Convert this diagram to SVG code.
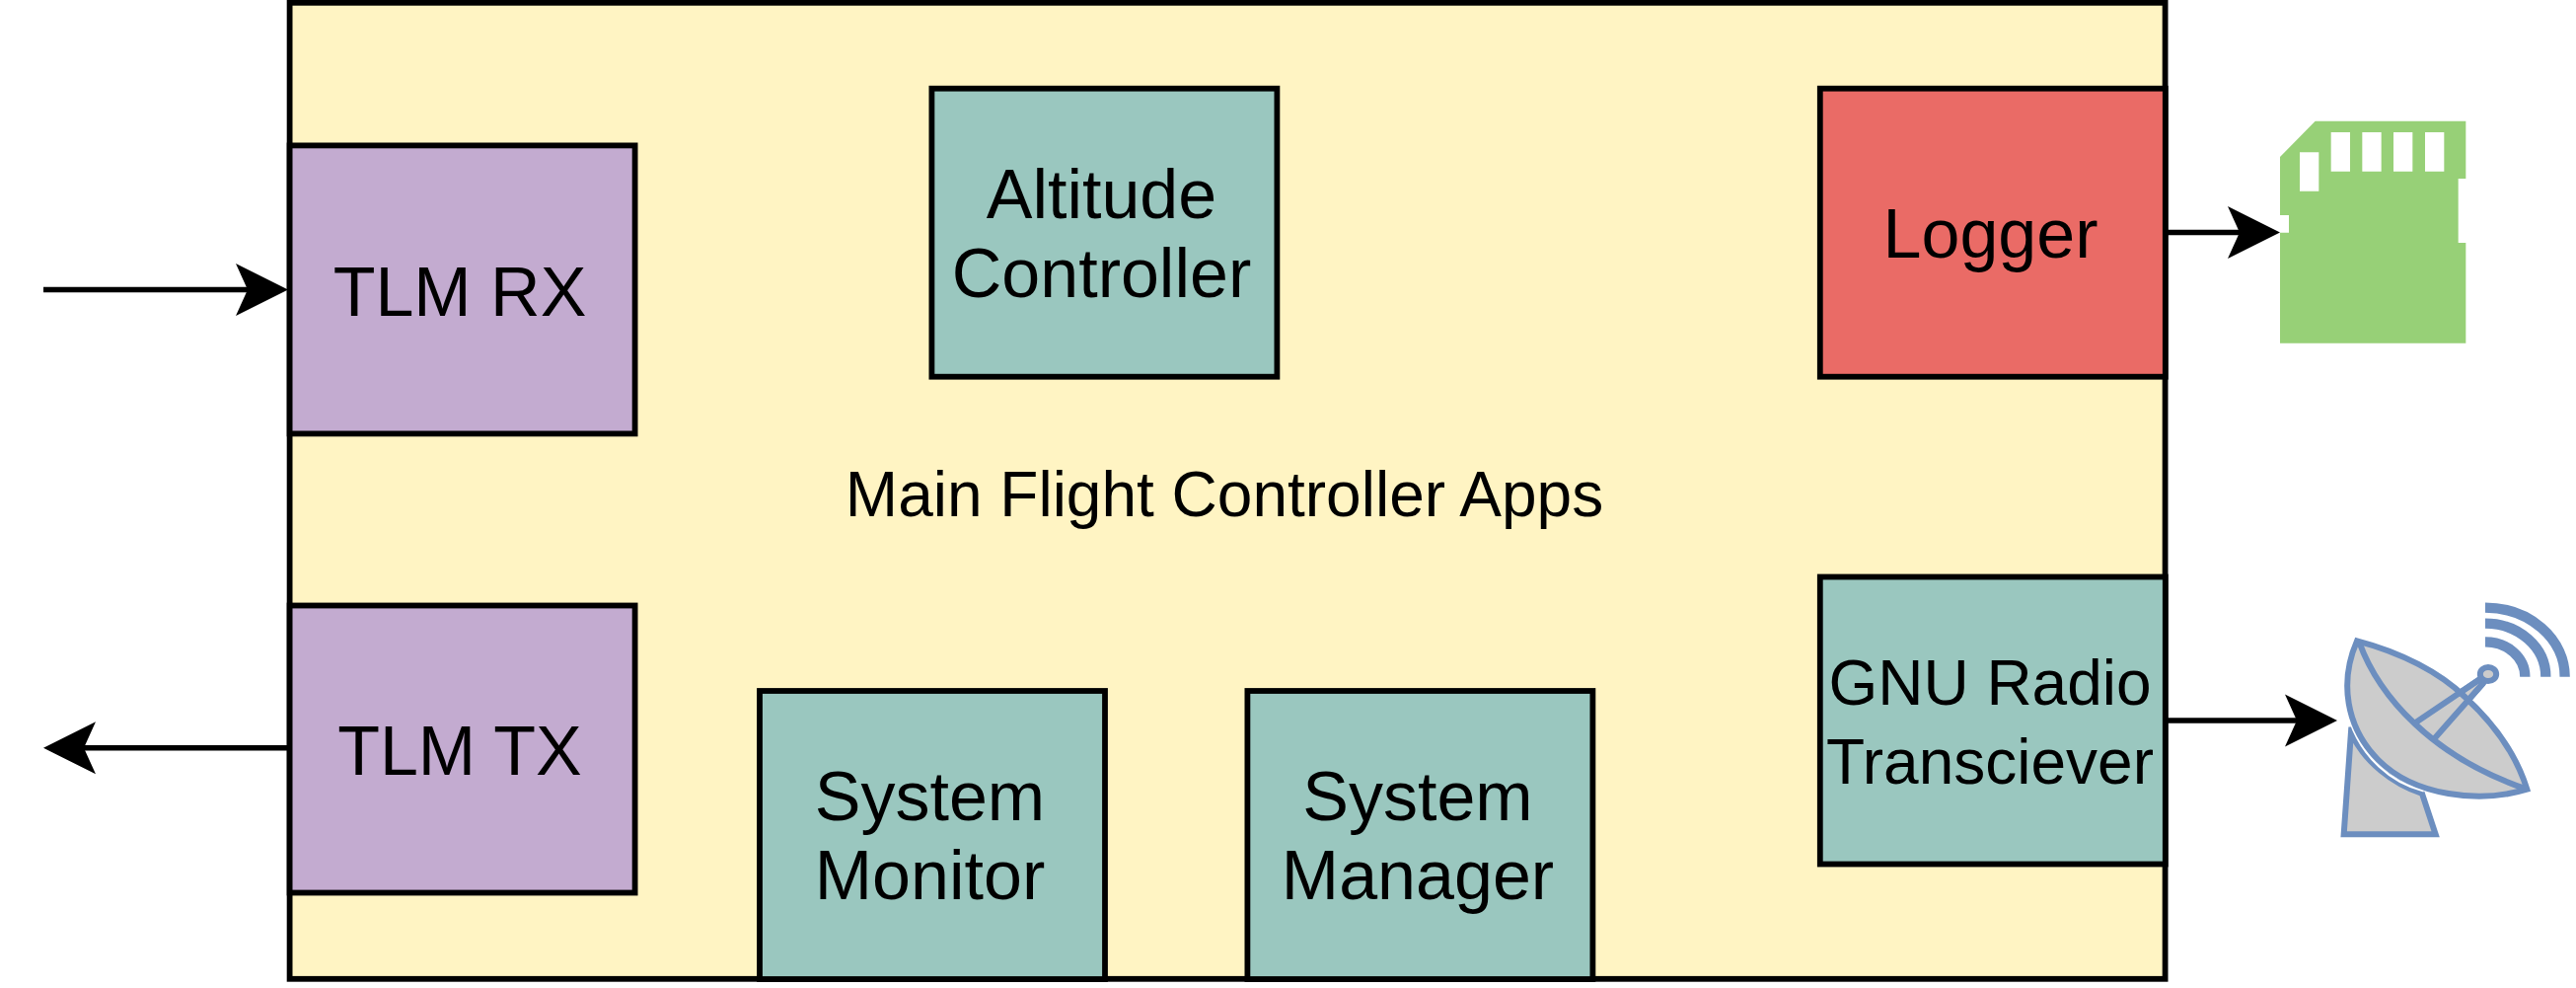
<svg xmlns="http://www.w3.org/2000/svg" width="2611" height="1001" viewBox="0 0 2611 1001">
<style>
.b{stroke:#000;stroke-width:5.8}
.t{font-family:"Liberation Sans",Arial,sans-serif;font-size:70px;fill:#000;text-anchor:middle}
.s{font-size:64px}
.c{stroke:#000;stroke-width:5.5;fill:none}
.teal{fill:#9AC7BF}.pur{fill:#C3ABD0}
.a{fill:#CCCCCC;stroke:#6C8EBF;stroke-width:18;stroke-linejoin:miter}
.o{fill:none;stroke:#6C8EBF;stroke-width:18}
.w{fill:none;stroke:#6C8EBF;stroke-width:31}
</style>
<defs>
<marker id="arr" markerUnits="userSpaceOnUse" markerWidth="60" markerHeight="60" refX="12" refY="30" orient="auto"><path d="M0 3.5L53 30L0 56.5L12 30Z" fill="#000"/></marker>
</defs>
<rect width="2611" height="1001" fill="#fff"/>
<g id="main">
<rect class="b" x="293.6" y="2.8" width="1901" height="989" fill="#FFF4C3"/>
<text x="1241" y="523" class="t s">Main Flight Controller Apps</text>
</g>
<g id="tlm-rx"><rect class="b pur" x="293.6" y="147.4" width="350" height="292"/><text class="t" x="466" y="320">TLM RX</text></g>
<g id="tlm-tx"><rect class="b pur" x="293.6" y="613.5" width="350" height="291"/><text class="t" x="466" y="785">TLM TX</text></g>
<g id="altitude"><rect class="b teal" x="944.4" y="89.7" width="350" height="292"/><text class="t" x="1116.5" y="221">Altitude</text><text class="t" x="1116.5" y="301">Controller</text></g>
<g id="logger"><rect class="b" x="1844.8" y="89.7" width="350" height="292" fill="#EA6B66"/><text class="t" x="2017.5" y="261">Logger</text></g>
<g id="gnu"><rect class="b teal" x="1844.8" y="584.5" width="350" height="291"/><text class="t s" x="2017" y="714">GNU Radio</text><text class="t s" x="2017" y="794">Transciever</text></g>
<g id="monitor"><rect class="b teal" x="770" y="700" width="350" height="292"/><text class="t" x="942.5" y="831">System</text><text class="t" x="942.5" y="911">Monitor</text></g>
<g id="manager"><rect class="b teal" x="1264.4" y="700" width="350" height="292"/><text class="t" x="1437" y="831">System</text><text class="t" x="1437" y="911">Manager</text></g>
<g id="connectors">
<line class="c" x1="44" y1="293.5" x2="251" y2="293.5" marker-end="url(#arr)"/>
<line class="c" x1="292" y1="757.8" x2="85" y2="757.8" marker-end="url(#arr)"/>
<line class="c" x1="2195" y1="235.5" x2="2270" y2="235.5" marker-end="url(#arr)"/>
<line class="c" x1="2195" y1="730" x2="2328" y2="730" marker-end="url(#arr)"/>
</g>
<g id="sd-card" transform="translate(2180 80) scale(.33333)">
<path fill="#97D077" fill-rule="evenodd" d="M393 237L500 128H958V303H935V498H958V803H393V467H420V414H393ZM453 223V341H511V223ZM548 162V281H606V162ZM643 162V281H701V162ZM738 162V281H796V162ZM834 162V281H892V162Z"/>
</g>
<g id="dish" transform="translate(2180 580) scale(.33333)">
<path class="a" d="M610 470L587 796H866L825 672C730 640 655 575 615 500Z"/>
<path d="M606 452C642 560 730 640 830 664" fill="none" stroke="#fff" stroke-width="7"/>
<path class="a" d="M800 460L1000 325L1012 335L858 510Z"/>
<path class="a" d="M627 208C762 243 880 305 955 378C1050 465 1112 555 1144 659C1000 703 802 680 692 570C593 470 573 332 627 208Z"/>
<path class="o" d="M634 212C692 372 852 560 1144 659"/>
<path class="o" d="M800 460L1000 325M858 510L1012 335"/>
<ellipse class="a" cx="1026" cy="309" rx="24.5" ry="21"/>
<path class="w" d="M1017 107A242 210 0 0 1 1259 317"/>
<path class="w" d="M1017 155A184 162 0 0 1 1201 317"/>
<path class="w" d="M1017 211A121 106 0 0 1 1138 317"/>
</g>
</svg>
